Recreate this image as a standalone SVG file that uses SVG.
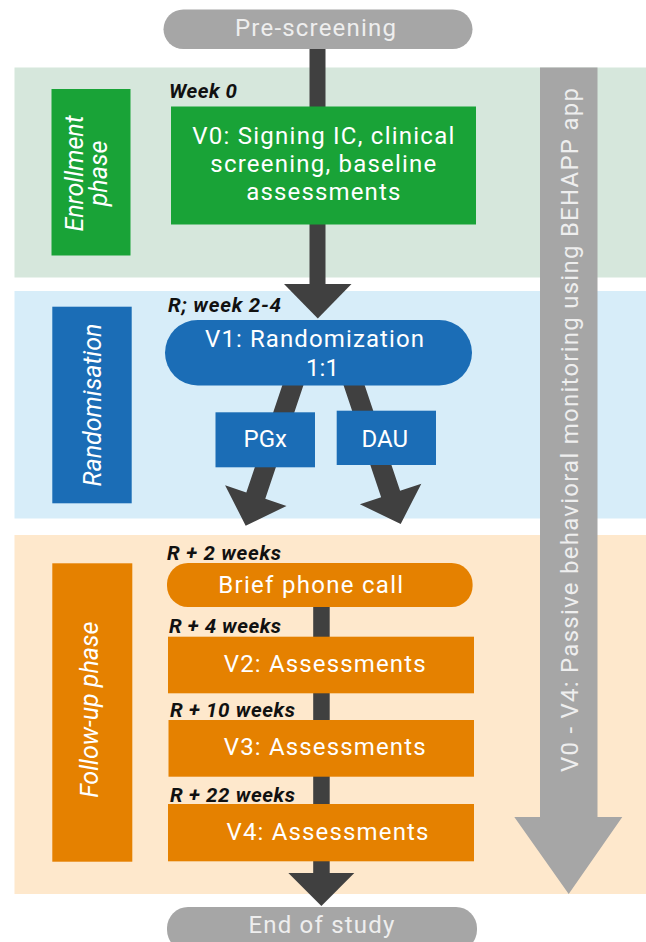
<svg xmlns="http://www.w3.org/2000/svg" width="646" height="942" viewBox="0 0 646 942">
<style>
text{font-family:Roboto,"Liberation Sans",sans-serif}
.bx{font-size:24px;fill:#ffffff;text-anchor:middle}
.gt{font-size:24px;fill:#eeeeee;text-anchor:middle}
.ph{font-size:25px;fill:#ffffff;font-style:italic;text-anchor:middle}
.lb{font-size:20.5px;fill:#111111;font-weight:bold;font-style:italic}
.green{fill:#19a337}
.blue{fill:#1b6db6}
.orange{fill:#e58100}
.grey{fill:#a6a6a6}
.dark{fill:#404040}
</style>
<rect width="646" height="942" fill="#ffffff"/>
<g id="bands">
<rect x="14.5" y="67.5" width="631.5" height="210" fill="#d6e7dc"/>
<rect x="14.5" y="291" width="631.5" height="227.5" fill="#d7edf9"/>
<rect x="14.5" y="535" width="631.5" height="359" fill="#fee8cc"/>
</g>
<g id="connectors">
<rect class="dark" x="309.5" y="48" width="16" height="237"/>
<polygon class="dark" points="284,284 351.5,284 317.8,318.5"/>
<polygon class="dark" points="288.52,366.81 307.48,373.19 265.28,498.84 286.52,505.97 245.7,525.7 225.08,485.33 246.32,492.47"/>
<polygon class="dark" points="339.52,373.18 358.48,366.82 400.09,490.77 421.33,483.64 400.7,524 359.89,504.26 381.13,497.13"/>
<rect class="dark" x="313.2" y="600" width="16.5" height="274"/>
<polygon class="dark" points="288.4,873 354.3,873 321.4,906"/>
</g>
<g id="monitoring">
<polygon class="grey" points="540,67.5 597.5,67.5 597.5,817 622.3,817 568.7,894 514.3,817 540,817"/>
<text class="gt" font-size="25" transform="translate(577.5,430) rotate(-90)" textLength="684" lengthAdjust="spacing">V0 - V4: Passive behavioral monitoring using BEHAPP app</text>
</g>
<g id="pre-screening">
<rect class="grey" x="163.5" y="9.5" width="309" height="39.5" rx="19.75"/>
<text class="gt" x="315.5" y="36" textLength="161" lengthAdjust="spacing">Pre-screening</text>
</g>
<g id="enrollment-phase">
<rect class="green" x="51.5" y="89" width="79" height="166.5"/>
<text class="ph" transform="translate(82.5,173.5) rotate(-90)">Enrollment</text>
<text class="ph" transform="translate(106.5,173.5) rotate(-90)">phase</text>
</g>
<g id="v0">
<text class="lb" x="169" y="98.3" textLength="68" lengthAdjust="spacing">Week 0</text>
<rect class="green" x="171" y="106.5" width="305" height="118"/>
<text class="bx" x="323.3" y="144" textLength="262" lengthAdjust="spacing">V0: Signing IC, clinical</text>
<text class="bx" x="323.3" y="172" textLength="226" lengthAdjust="spacing">screening, baseline</text>
<text class="bx" x="323.3" y="200" textLength="154" lengthAdjust="spacing">assessments</text>
</g>
<g id="randomisation-phase">
<rect class="blue" x="52.3" y="306.7" width="79.4" height="196.6"/>
<text class="ph" transform="translate(101,405) rotate(-90)">Randomisation</text>
</g>
<g id="v1">
<text class="lb" x="168" y="311.7" textLength="113" lengthAdjust="spacing">R; week 2-4</text>
<rect class="blue" x="165" y="320" width="307" height="65.5" rx="32.75"/>
<text class="bx" x="314.5" y="346.7" textLength="219" lengthAdjust="spacing">V1: Randomization</text>
<text class="bx" x="322.5" y="375.7">1:1</text>
</g>
<g id="pgx">
<rect class="blue" x="215.5" y="412.3" width="99.5" height="55"/>
<text class="bx" x="265.2" y="446.7">PGx</text>
</g>
<g id="dau">
<rect class="blue" x="336.7" y="410.7" width="99.3" height="54.3"/>
<text class="bx" x="384.7" y="446.7">DAU</text>
</g>
<g id="follow-up-phase">
<rect class="orange" x="52.3" y="563.3" width="80" height="298.4"/>
<text class="ph" transform="translate(97.5,709.7) rotate(-90)">Follow-up phase</text>
</g>
<g id="phone-call">
<text class="lb" x="167" y="560" textLength="114" lengthAdjust="spacing">R + 2 weeks</text>
<rect class="orange" x="167" y="563" width="305.6" height="44" rx="21"/>
<text class="bx" x="310.7" y="593" textLength="185" lengthAdjust="spacing">Brief phone call</text>
</g>
<g id="v2">
<text class="lb" x="169" y="633.3" textLength="112" lengthAdjust="spacing">R + 4 weeks</text>
<rect class="orange" x="168" y="636.7" width="306" height="56.6"/>
<text class="bx" x="324.7" y="672" textLength="202" lengthAdjust="spacing">V2: Assessments</text>
</g>
<g id="v3">
<text class="lb" x="170" y="716.7" textLength="125" lengthAdjust="spacing">R + 10 weeks</text>
<rect class="orange" x="168.5" y="720" width="305.5" height="56.7"/>
<text class="bx" x="324.7" y="755" textLength="202" lengthAdjust="spacing">V3: Assessments</text>
</g>
<g id="v4">
<text class="lb" x="170" y="801.7" textLength="125" lengthAdjust="spacing">R + 22 weeks</text>
<rect class="orange" x="168" y="804" width="306" height="57.3"/>
<text class="bx" x="327.5" y="840" textLength="202" lengthAdjust="spacing">V4: Assessments</text>
</g>
<g id="end-of-study">
<rect class="grey" x="167" y="907" width="310" height="44" rx="21"/>
<text class="gt" x="321.4" y="933" textLength="146" lengthAdjust="spacing">End of study</text>
</g>
</svg>
